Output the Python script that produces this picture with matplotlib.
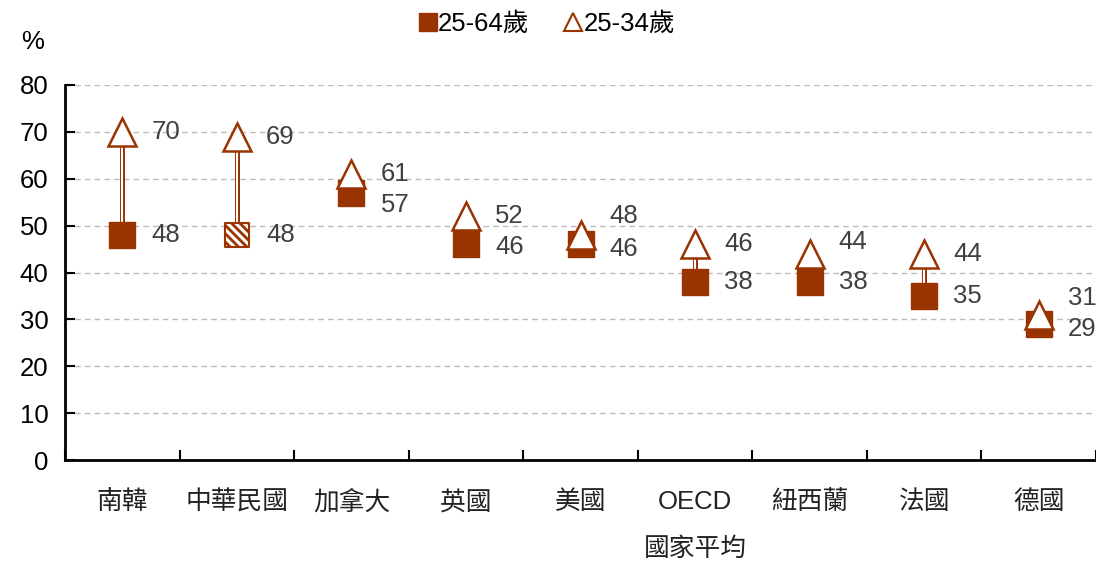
import matplotlib
matplotlib.use("Agg")
import matplotlib.pyplot as plt
import numpy as np

plt.rcParams['font.family'] = ['Liberation Sans', 'Noto Sans CJK TC', 'DejaVu Sans']
plt.rcParams['hatch.linewidth'] = 2.0

countries = ['南韓', '中華民國', '加拿大', '英國', '美國', 'OECD', '紐西蘭', '法國', '德國']
age_25_64 = [48, 48, 57, 46, 46, 38, 38, 35, 29]
age_25_34 = [70, 69, 61, 52, 48, 46, 44, 44, 31]
# label nudges (data units) so text does not overlap
off_25_64 = [0, 0, -2.5, -0.5, -1, 0, 0, 0, -1]
off_25_34 = [0, 0, 0, 0, 4, 0, 2.5, 0, 3.5]

color = '#993300'
text_color = '#404040'
fs = 18.5

fig = plt.figure(figsize=(10.96, 5.62), dpi=100)
ax = fig.add_axes([65 / 1096, 102 / 562, 1031 / 1096, 375 / 562])

x = np.arange(len(countries))

# double connecting line
for i in range(len(countries)):
    lo, hi = age_25_64[i], age_25_34[i]
    if hi > lo:
        ax.plot([x[i], x[i]], [lo, hi], color=color, lw=3.6, zorder=2, solid_capstyle='butt')
        ax.plot([x[i], x[i]], [lo, hi], color='white', lw=1.5, zorder=2.1, solid_capstyle='butt')

solid = [i for i in range(len(countries)) if countries[i] != '中華民國']
ax.plot(x[solid], np.array(age_25_64)[solid], 's', ms=19, color=color, mec=color, ls='none', zorder=3)
ax.scatter([1], [age_25_64[1]], marker='s', s=17.5 ** 2, facecolor='white', edgecolor=color,
           hatch='\\\\\\\\', linewidth=1.5, zorder=3)
ax.plot(x, age_25_34, '^', ms=20, mfc='white', mec=color, mew=1.8, ls='none', zorder=4)

for i in range(len(countries)):
    ax.annotate(str(age_25_34[i]), (x[i], age_25_34[i] + off_25_34[i]), xytext=(21, 0),
                textcoords='offset points', ha='left', va='center', fontsize=fs, color=text_color)
    ax.annotate(str(age_25_64[i]), (x[i], age_25_64[i] + off_25_64[i]), xytext=(21, 0),
                textcoords='offset points', ha='left', va='center', fontsize=fs, color=text_color)

ax.set_xlim(-0.5, len(countries) - 0.5 - 0.03)
ax.set_ylim(0, 80)
ax.set_yticks(np.arange(0, 81, 10))
ax.set_yticklabels([str(v) for v in range(0, 81, 10)], fontsize=fs)
ax.yaxis.grid(True, ls=(0, (4, 3)), color='#bbbbbb', lw=1)
ax.set_axisbelow(True)

ax.set_xticks(np.arange(-0.5, len(countries), 1))
ax.set_xticklabels([])
ax.tick_params(axis='x', direction='in', length=7, width=1.5)
ax.tick_params(axis='y', direction='in', length=7, width=1.5, pad=12)
for i, c in enumerate(countries):
    ax.text(x[i], -9, c, ha='center', va='center', fontsize=fs, color='#222222')
ax.text(x[5], -19, '國家平均', ha='center', va='center', fontsize=fs, color='#222222')

for s in ['top', 'right']:
    ax.spines[s].set_visible(False)
for s in ['left', 'bottom']:
    ax.spines[s].set_linewidth(2)

fig.text(33 / 1096, 1 - 42 / 562, '%', ha='center', va='center', fontsize=fs)

# legend
h1 = plt.Line2D([], [], marker='s', ls='none', color=color, ms=13)
h2 = plt.Line2D([], [], marker='^', ls='none', mfc='white', mec=color, mew=1.5, ms=13)
fig.legend([h1, h2], ['25-64歲', '25-34歲'], loc='center', bbox_to_anchor=(545 / 1096, 1 - 24 / 562),
           ncol=2, frameon=False, fontsize=fs, handletextpad=-0.1, columnspacing=1.2, handlelength=1)

fig.savefig('out.png', dpi=100)
